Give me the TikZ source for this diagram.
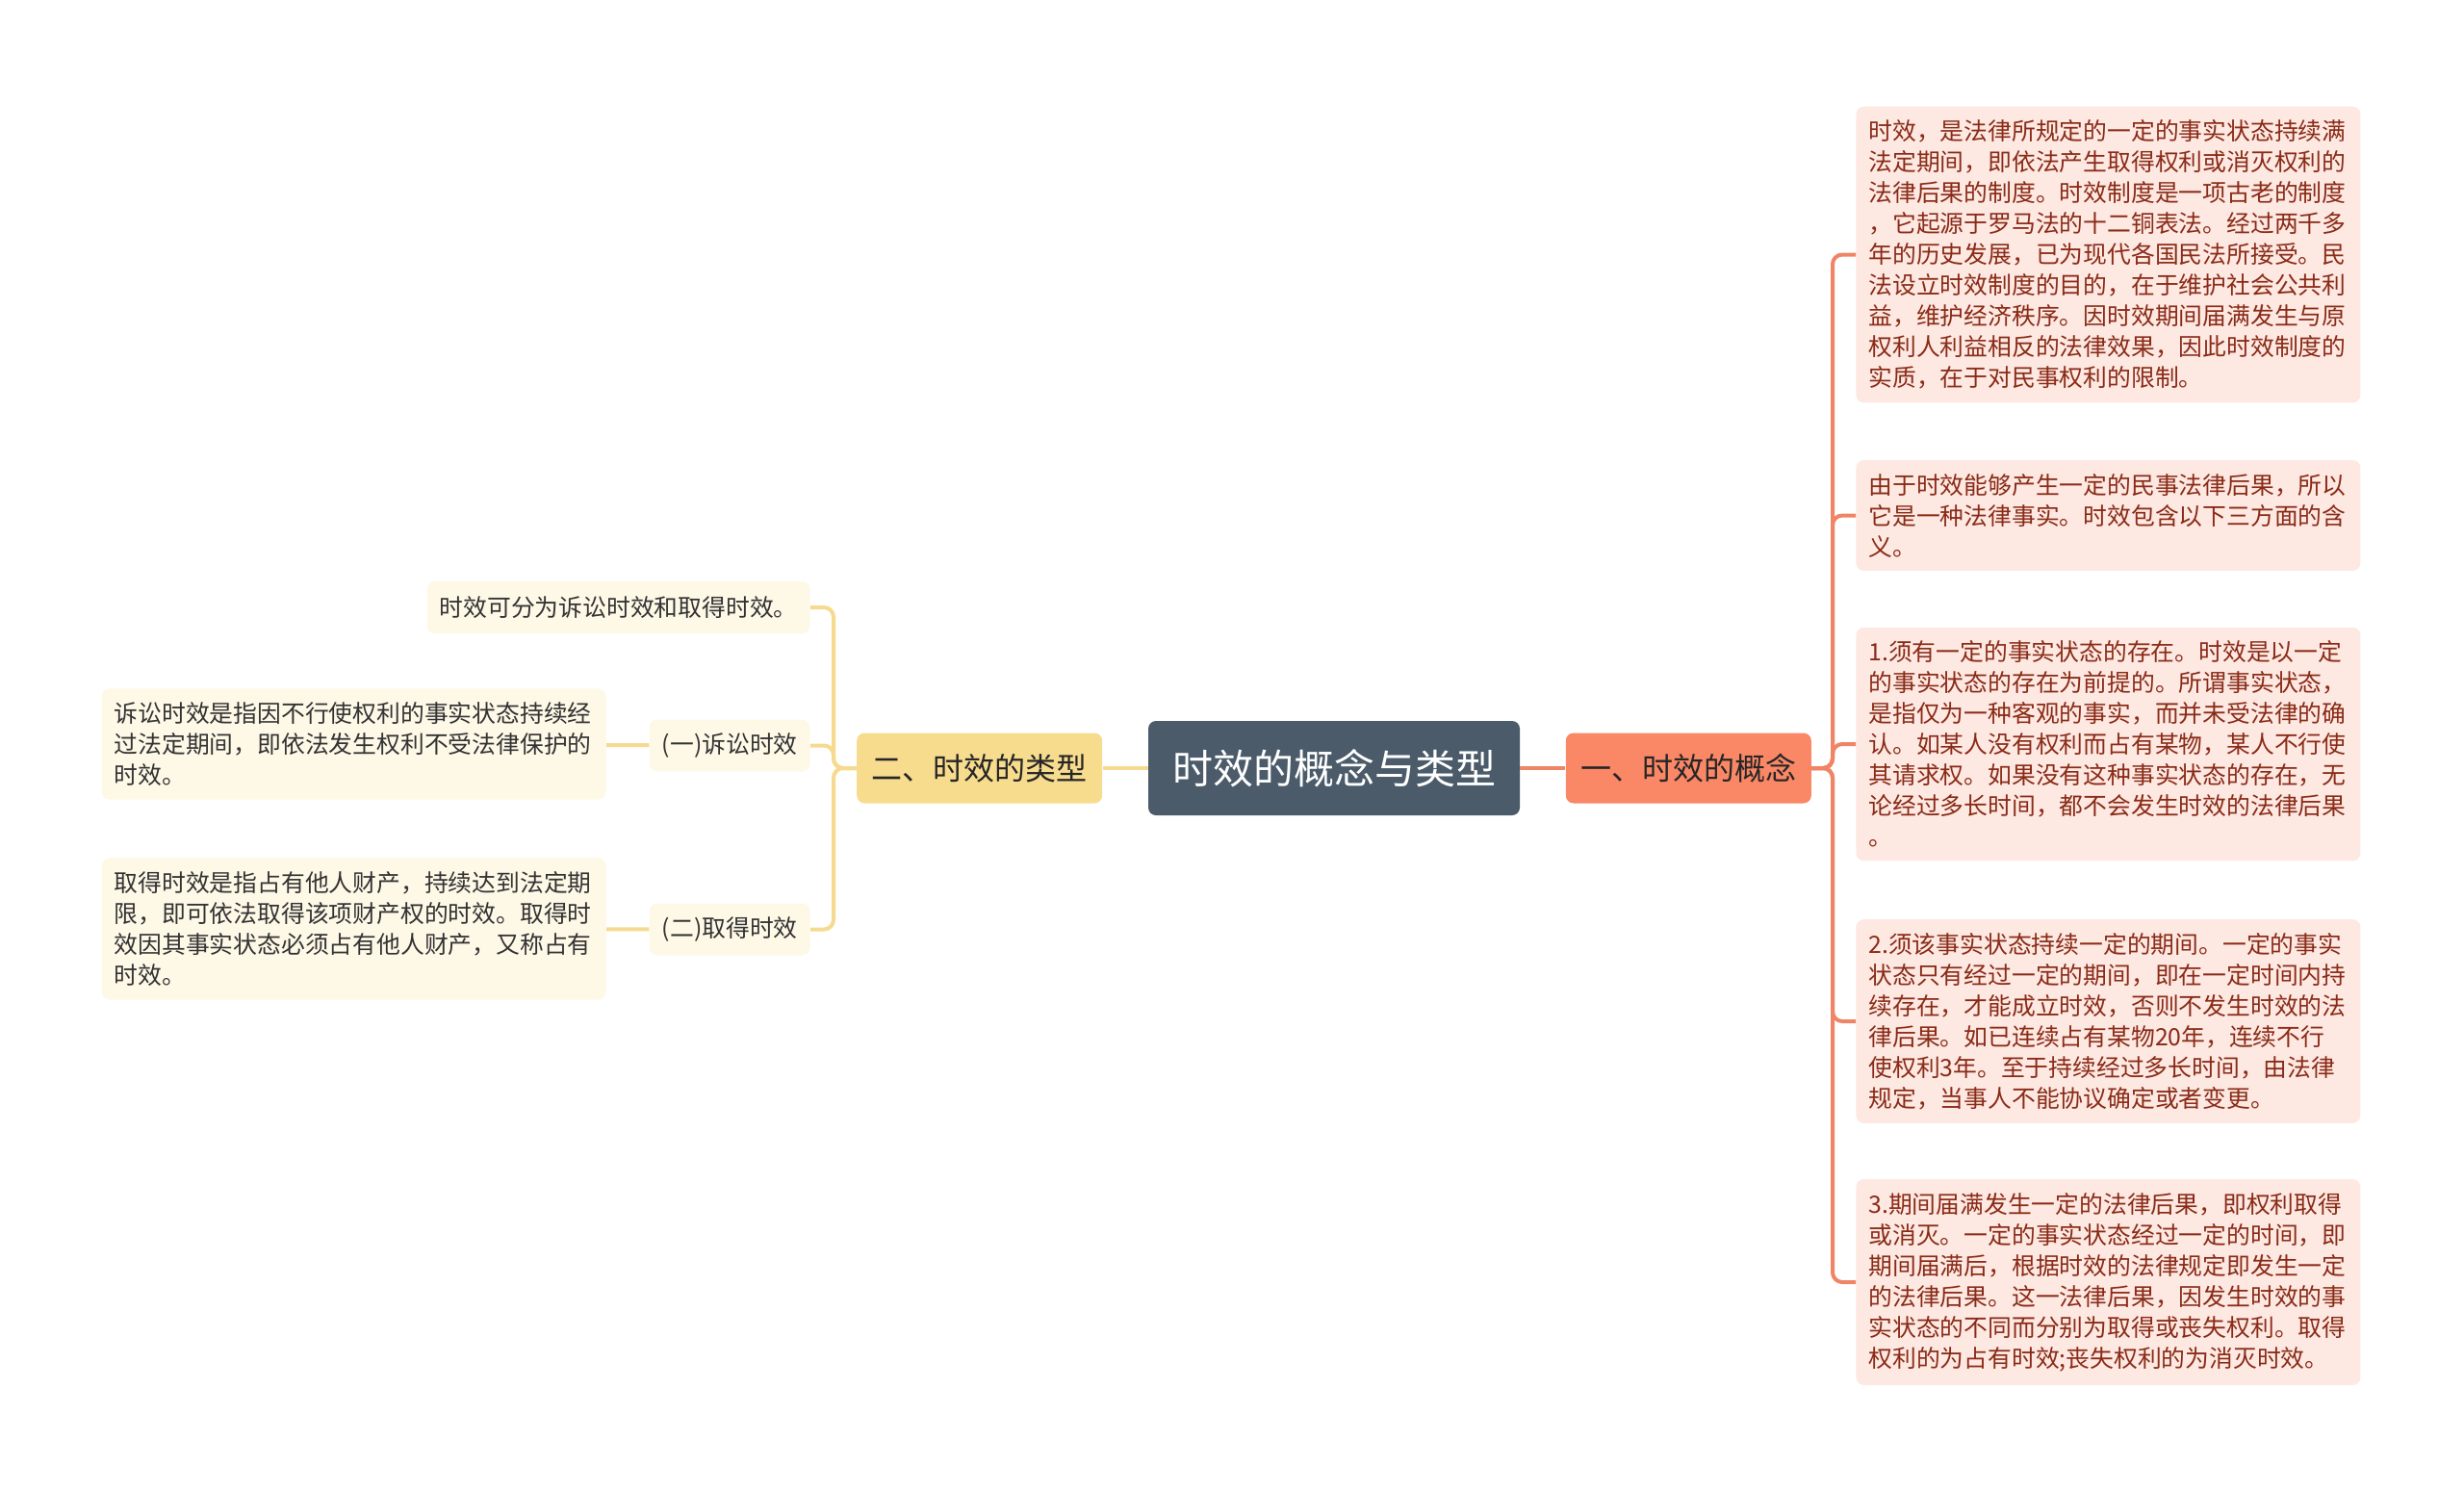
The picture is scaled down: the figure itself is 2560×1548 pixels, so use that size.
\documentclass[tikz,border=0pt]{standalone}
\usepackage{fontspec}
\setmainfont{Noto Sans CJK SC}
\usepackage{tikz}
\usetikzlibrary{positioning}

\definecolor{rootfill}{HTML}{4B5B6A}
\definecolor{conceptfill}{HTML}{FA8766}
\definecolor{conceptline}{HTML}{F08566}
\definecolor{conceptleaf}{HTML}{FDE8E2}
\definecolor{concepttext}{HTML}{8A2B17}
\definecolor{typefill}{HTML}{F7DC8E}
\definecolor{typeline}{HTML}{F5DA8F}
\definecolor{typeleaf}{HTML}{FEF8E7}
\definecolor{typetext}{HTML}{333333}

\tikzset{
  root/.style={fill=rootfill, text=white, rounded corners=4pt, minimum width=193pt, minimum height=49pt, font=\fontsize{21}{24}\selectfont},
  branch/.style={rounded corners=4pt, minimum width=127.5pt, minimum height=36.5pt, text=black!85, font=\fontsize{16}{19}\selectfont},
  leafbox/.style={rounded corners=4pt, inner xsep=6.5pt, inner ysep=7pt, text width=249pt, align=left, font=\fontsize{12.4}{16}\selectfont},
  tagbox/.style={rounded corners=4pt, fill=typeleaf, text=typetext, inner xsep=6.5pt, minimum height=27pt, font=\fontsize{12.4}{16}\selectfont},
  rline/.style={draw=conceptline, line width=2pt, rounded corners=5pt},
  lline/.style={draw=typeline, line width=2pt, rounded corners=5pt}
}

\begin{document}
\begin{tikzpicture}[x=0.5pt, y=-0.5pt, node distance=23.5pt]
\useasboundingbox (0,0) rectangle (2560,1548);

\node[root] (root) at (1386,798) {时效的概念与类型};
\node[branch, fill=conceptfill] (concept) [right=of root] {一、时效的概念};
\node[branch, fill=typefill] (types) [left=of root] {二、时效的类型};

% right side
\node[leafbox, fill=conceptleaf, text=concepttext, anchor=west] (def) at (1928,264.5) {时效，是法律所规定的一定的事实状态持续满\\法定期间，即依法产生取得权利或消灭权利的\\法律后果的制度。时效制度是一项古老的制度\\，它起源于罗马法的十二铜表法。经过两千多\\年的历史发展，已为现代各国民法所接受。民\\法设立时效制度的目的，在于维护社会公共利\\益，维护经济秩序。因时效期间届满发生与原\\权利人利益相反的法律效果，因此时效制度的\\实质，在于对民事权利的限制。};
\node[leafbox, fill=conceptleaf, text=concepttext, anchor=west] (fact) at (1928,535.5) {由于时效能够产生一定的民事法律后果，所以\\它是一种法律事实。时效包含以下三方面的含\\义。};
\node[leafbox, fill=conceptleaf, text=concepttext, anchor=west] (state) at (1928,773) {1.须有一定的事实状态的存在。时效是以一定\\的事实状态的存在为前提的。所谓事实状态，\\是指仅为一种客观的事实，而并未受法律的确\\认。如某人没有权利而占有某物，某人不行使\\其请求权。如果没有这种事实状态的存在，无\\论经过多长时间，都不会发生时效的法律后果\\。};
\node[leafbox, fill=conceptleaf, text=concepttext, anchor=west] (period) at (1928,1061) {2.须该事实状态持续一定的期间。一定的事实\\状态只有经过一定的期间，即在一定时间内持\\续存在，才能成立时效，否则不发生时效的法\\律后果。如已连续占有某物20年，连续不行\\使权利3年。至于持续经过多长时间，由法律\\规定，当事人不能协议确定或者变更。};
\node[leafbox, fill=conceptleaf, text=concepttext, anchor=west] (effect) at (1928,1332) {3.期间届满发生一定的法律后果，即权利取得\\或消灭。一定的事实状态经过一定的时间，即\\期间届满后，根据时效的法律规定即发生一定\\的法律后果。这一法律后果，因发生时效的事\\实状态的不同而分别为取得或丧失权利。取得\\权利的为占有时效;丧失权利的为消灭时效。};

% left side
\node[tagbox, anchor=east] (split) at (842,631) {时效可分为诉讼时效和取得时效。};
\node[tagbox, anchor=east] (suit) at (842,774.5) {(一)诉讼时效};
\node[tagbox, anchor=east] (acq) at (842,965.5) {(二)取得时效};
\node[leafbox, fill=typeleaf, text=typetext, anchor=east] (suitdef) at (630,773) {诉讼时效是指因不行使权利的事实状态持续经\\过法定期间，即依法发生权利不受法律保护的\\时效。};
\node[leafbox, fill=typeleaf, text=typetext, anchor=east] (acqdef) at (630,965) {取得时效是指占有他人财产，持续达到法定期\\限，即可依法取得该项财产权的时效。取得时\\效因其事实状态必须占有他人财产，又称占有\\时效。};

\coordinate (rspine) at (1904,798);
\coordinate (lspine) at (866,798);

\draw[rline] (root) -- (concept);
\foreach \leaf in {def, fact, state, period, effect}
  \draw[rline] (concept.east) -- (rspine) |- (\leaf.west);

\draw[lline] (root) -- (types);
\foreach \tag in {split, suit, acq}
  \draw[lline] (types.west) -- (lspine) |- (\tag.east);
\draw[lline] (suit) -- (suitdef);
\draw[lline] (acq) -- (acqdef);
\end{tikzpicture}
\end{document}
